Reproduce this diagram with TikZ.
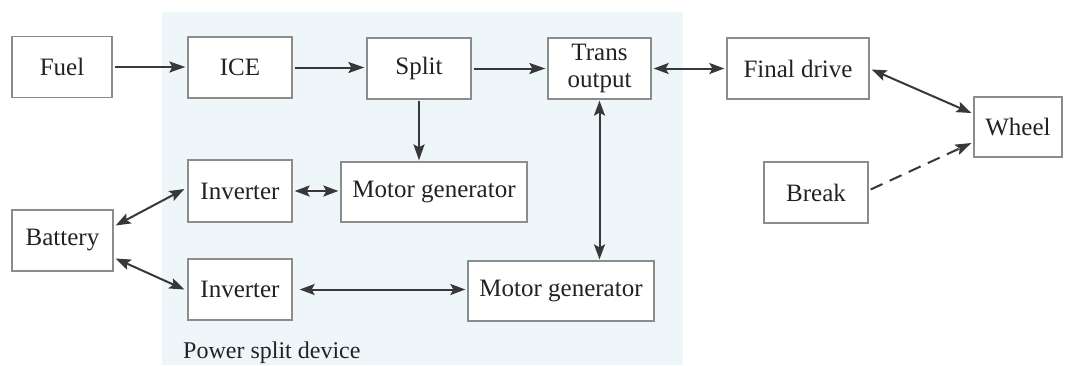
\documentclass[tikz,border=0pt]{standalone}
\usepackage{fontspec}
\setmainfont{Liberation Serif}
\usetikzlibrary{arrows.meta}
\definecolor{bgblue}{HTML}{EFF6F9}
\definecolor{boxline}{HTML}{8C8C8C}
\definecolor{arrowc}{HTML}{383838}
\definecolor{txt}{HTML}{222222}
\begin{document}
\begin{tikzpicture}[x=1pt,y=-1pt,
  blk/.style={draw=boxline, line width=1.3pt, fill=white, text=txt,
    font=\fontsize{25}{27}\selectfont, inner sep=0pt,
    minimum width=#1, minimum height=61pt, align=center},
  link/.style={draw=arrowc, line width=2pt, -{Stealth[length=16pt,width=11pt,inset=3pt]}},
  dlink/.style={draw=arrowc, line width=2pt, {Stealth[length=15pt,width=11pt,inset=3pt]}-{Stealth[length=15pt,width=11pt,inset=3pt]}},
  dashlink/.style={link, dash pattern=on 13pt off 8pt}]
\useasboundingbox (0,0) rectangle (1069,365);
\fill[bgblue] (162,12) rectangle (683,365);
% blocks
\node[blk=100pt] (fuel)  at (62,67)    {Fuel};
\node[blk=104pt] (ice)   at (240,67.5) {ICE};
\node[blk=104pt] (split) at (419,68.5) {Split};
\node[blk=103pt] (trans) at (599.5,68.5) {Trans\\output};
\node[blk=142pt] (final) at (798,68.5) {Final drive};
\node[blk=88pt, minimum height=60pt] (wheel) at (1018,127) {Wheel};
\node[blk=104pt] (brk)   at (816,192.5) {Break};
\node[blk=104pt, minimum height=62pt] (inv1) at (240,191) {Inverter};
\node[blk=186pt, minimum height=60pt] (mg1) at (434,192) {Motor generator};
\node[blk=101pt] (bat)   at (62.5,240.5) {Battery};
\node[blk=104pt] (inv2)  at (240,289.5) {Inverter};
\node[blk=186pt, minimum height=60pt] (mg2) at (561,291) {Motor generator};
\node[anchor=base west, text=txt, font=\fontsize{24}{25}\selectfont, inner sep=0pt] (psd) at (183,358) {Power split device};
% connectors
\draw[link] ([xshift=2pt]fuel.east) -- ([xshift=-2pt]fuel.east -| ice.west);
\draw[link] ([xshift=2pt]ice.east) -- ([xshift=-2pt]ice.east -| split.west);
\draw[link] ([xshift=2pt]split.east) -- ([xshift=-2pt]split.east -| trans.west);
\draw[dlink] ([xshift=2pt]trans.east) -- ([xshift=-2pt]trans.east -| final.west);
\draw[link] ([yshift=-1pt]split.south) -- ([yshift=1pt]split.south |- mg1.north);
\draw[dlink] ([yshift=-1pt]trans.south) -- ([yshift=1pt]trans.south |- mg2.north);
\draw[dlink] ([xshift=2pt]inv1.east) -- ([xshift=-2pt]inv1.east -| mg1.west);
\draw[dlink] ([xshift=7pt]inv2.east) -- ([xshift=-2pt]inv2.east -| mg2.west);
\draw[dlink] ([xshift=2pt,yshift=15pt]bat.east) -- ([xshift=-3pt,yshift=2pt]inv1.west);
\draw[dlink] ([xshift=2pt,yshift=-18pt]bat.east) -- ([xshift=-3pt]inv2.west);
\draw[dlink] ([xshift=2pt,yshift=-1pt]final.east) -- ([xshift=-2pt,yshift=14pt]wheel.west);
\draw[dashlink] ([xshift=2pt,yshift=3pt]brk.east) -- ([xshift=-2pt,yshift=-16pt]wheel.west);
\end{tikzpicture}
\end{document}
